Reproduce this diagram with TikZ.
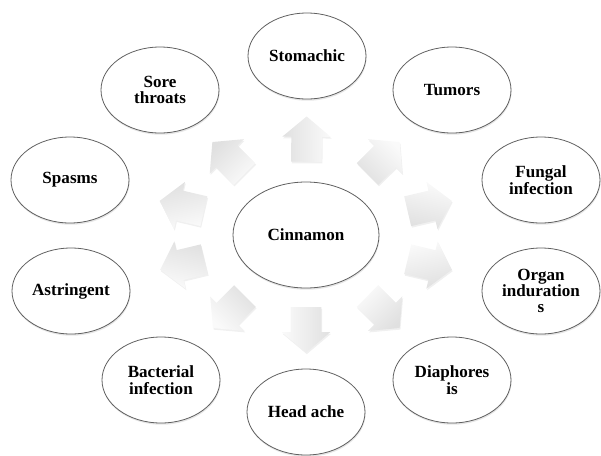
\documentclass[tikz,border=0pt]{standalone}
\usepackage{fontspec}
\setmainfont{Liberation Serif}
\usetikzlibrary{shapes.geometric, shapes.arrows, calc, shadows}

\begin{document}
\begin{tikzpicture}[x=0.75pt, y=-0.75pt,
  ailment/.style={ellipse, draw=gray!75!black, line width=0.6pt, fill=white,
    minimum width=88.5pt, minimum height=64.5pt, inner sep=0pt, align=center,
    font=\fontsize{12.8pt}{12.3pt}\selectfont\bfseries,
    drop shadow={opacity=0.2, shadow xshift=0.4pt, shadow yshift=-1.3pt}},
  spice/.style={ailment, minimum width=109.5pt, minimum height=79.5pt},
  blockarrow/.style={single arrow, draw=none, inner xsep=0pt, inner ysep=11.25pt,
    minimum height=34pt, single arrow head extend=6.75pt,
    single arrow tip angle=100,
    drop shadow={opacity=0.12, shadow xshift=0.6pt, shadow yshift=-1.2pt}}]
  \useasboundingbox (0,0) rectangle (601,455);
  % centre
  \node[spice] (cin) at (306,235) {Cinnamon};
  % uses, clockwise from the top
  \foreach \nm/\px/\py/\txt in {sto/307/56/Stomachic, tum/452/90/Tumors,
      fun/541/180/{Fungal\\infection}, org/541/291/{Organ\\induration\\s},
      dia/452/380/{Diaphores\\is}, hea/306/412/{Head ache},
      bac/161/380/{Bacterial\\infection}, ast/71/291/Astringent,
      spa/70/180/Spasms, sor/160/90/{Sore\\throats}}
    \node[ailment] (\nm) at (\px,\py) {\txt};
  % block arrows half way out
  \foreach \nm in {sto,tum,fun,org,dia,hea,bac,ast,spa,sor}
    \path let \p1=($(\nm)-(cin)$), \n1={atan2(\y1,\x1)} in
      node[blockarrow, rotate=\n1, top color=gray!4, bottom color=gray!24,
        shading angle=-\n1] (ar-\nm) at ($(cin)!0.5!(\nm)$) {};
\end{tikzpicture}
\end{document}
